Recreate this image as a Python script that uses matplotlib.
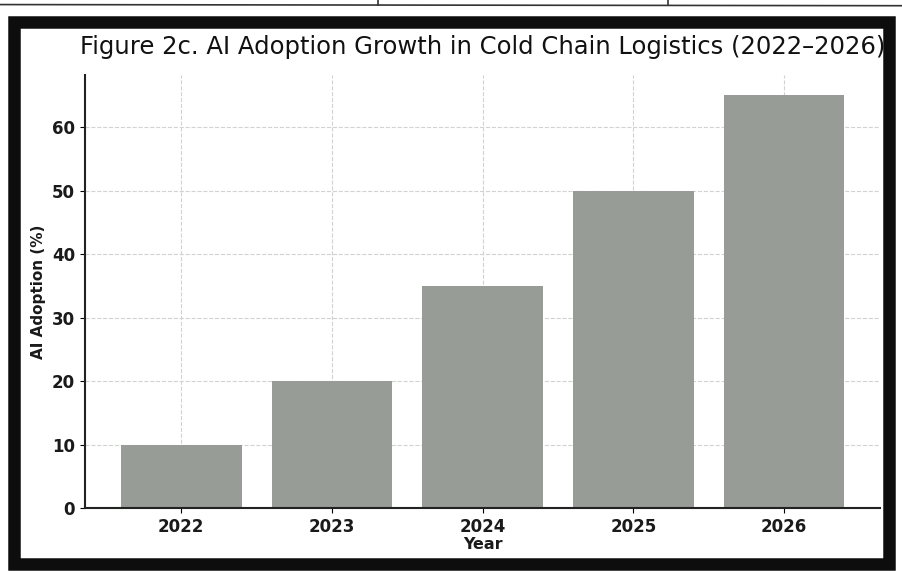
import matplotlib.pyplot as plt
from matplotlib.patches import Rectangle
from matplotlib.lines import Line2D

years = ['2022', '2023', '2024', '2025', '2026']
adoption = [10, 20, 35, 50, 65]

fig = plt.figure(figsize=(9.03, 5.71), dpi=100)
fig.patch.set_facecolor('white')

ax = fig.add_axes([0.094, 0.110, 0.881, 0.759])
ax.bar(years, adoption, width=0.8, color='#979c97', zorder=2)

ax.set_title('Figure 2c. AI Adoption Growth in Cold Chain Logistics (2022\u20132026)',
             fontsize=17.5, color='#111111', pad=15)
ax.set_xlabel('Year', fontsize=11.5, fontweight='bold', color='#1a1a1a', labelpad=1)
ax.set_ylabel('AI Adoption (%)', fontsize=11, fontweight='bold', color='#1a1a1a')

ax.grid(True, linestyle='--', color='#d2d2d2', linewidth=0.8)
ax.set_axisbelow(True)
for side in ('top', 'right'):
    ax.spines[side].set_visible(False)
for side in ('left', 'bottom'):
    ax.spines[side].set_linewidth(1.5)
    ax.spines[side].set_color('#222222')

for lbl in ax.get_xticklabels() + ax.get_yticklabels():
    lbl.set_fontweight('bold')
    lbl.set_fontsize(12)
    lbl.set_color('#1a1a1a')

# thick black frame around the figure panel
fig.patches.append(Rectangle((0.015, 0.012), 0.970, 0.950, transform=fig.transFigure,
                             fill=False, edgecolor='#0d0d0d', linewidth=9))

# ruling of the surrounding table above the panel
fig.lines.append(Line2D([0.0, 1.0], [0.992, 0.990], transform=fig.transFigure,
                        color='#333333', linewidth=1.2))
for xv in (0.419, 0.740):
    fig.lines.append(Line2D([xv, xv], [0.992, 1.0], transform=fig.transFigure,
                            color='#333333', linewidth=1.2))

fig.savefig('out.png', dpi=100)
